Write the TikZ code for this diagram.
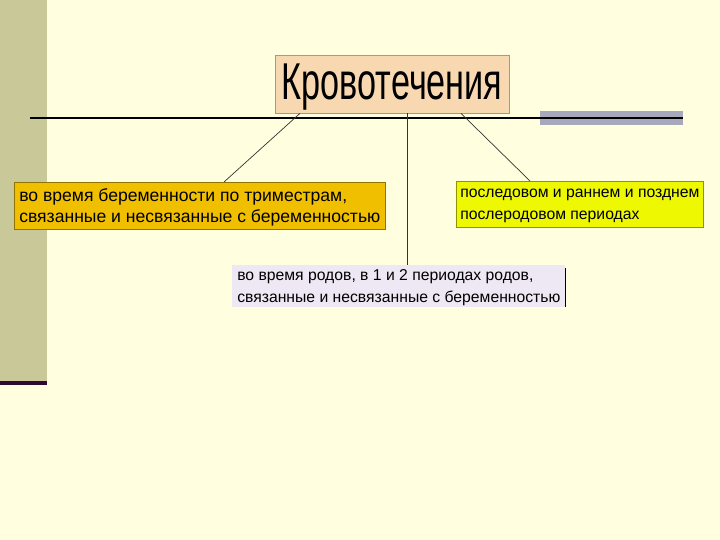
\documentclass[tikz,border=0pt]{standalone}
\usepackage{fontspec}
\setmainfont{Liberation Sans}
\usepackage{tikz}
\usetikzlibrary{positioning}
\definecolor{bgyellow}{HTML}{FFFFE0}
\definecolor{bandkhaki}{HTML}{C8C898}
\definecolor{bandline}{HTML}{300830}
\definecolor{greybar}{HTML}{A8A8BC}
\definecolor{peach}{HTML}{F8D8B0}
\definecolor{gold}{HTML}{F0C000}
\definecolor{lime}{HTML}{EEF800}
\definecolor{lavender}{HTML}{EEE8F4}
\tikzstyle{box} = [anchor=north west, inner sep=2pt, align=left, font=\fontsize{10}{12}\selectfont, text depth=0pt]
\tikzstyle{smallbox} = [box, font=\fontsize{8.95}{12.4}\selectfont]
\tikzstyle{link} = [thin, black!80]

\begin{document}
\begin{tikzpicture}[x=0.02cm, y=-0.02cm]
                    \useasboundingbox[fill=bgyellow] (0,0) rectangle (720,540);
                    % left band
                    \fill[bandkhaki] (0,0) rectangle (47,382);
                    \fill[bandline] (0,381) rectangle (47,385);
                    % rule under the title
                    \fill[greybar] (540,111) rectangle (683,125);
                    \draw[line width=1.2pt, black] (30,118) -- (683,118);
                    % title
                    \node[fill=peach, draw=peach!70!black, very thin, minimum width=234*0.02cm, minimum height=58*0.02cm, anchor=north west, inner sep=0pt, text height=37*0.02cm, text depth=7*0.02cm]
                        (title) at (275,55) {\scalebox{0.66}[1]{\fontsize{29.5}{30}\selectfont Кровотечения}};
                    % boxes
                    \node[box, fill=gold, draw=gold!60!black, minimum width=371*0.02cm, minimum height=47*0.02cm]
                        (pregnancy) at (14,182) {во время беременности по триместрам,\\связанные и несвязанные с беременностью};
                    \node[smallbox, fill=lime, draw=lime!60!black, minimum width=247*0.02cm, minimum height=46*0.02cm]
                        (postpartum) at (456,181) {последовом и раннем и позднем\\послеродовом периодах};
                    \node[smallbox, fill=lavender, minimum width=333*0.02cm, minimum height=42*0.02cm]
                        (labour) at (232,265) {во время родов, в 1 и 2 периодах родов,\\связанные и несвязанные с беременностью};
                    \draw[black] ([yshift=-3*0.02cm]labour.north east) -- ([yshift=1*0.02cm]labour.south east);
                    % connectors
                    \draw[link] ([xshift=25*0.02cm]title.south west) -- ([xshift=210*0.02cm]pregnancy.north west);
                    \draw[link] ([xshift=132*0.02cm]title.south west) -- ([xshift=175*0.02cm]labour.north west);
                    \draw[link] ([xshift=186*0.02cm]title.south west) -- ([xshift=74*0.02cm]postpartum.north west);
                \end{tikzpicture}
\end{document}
